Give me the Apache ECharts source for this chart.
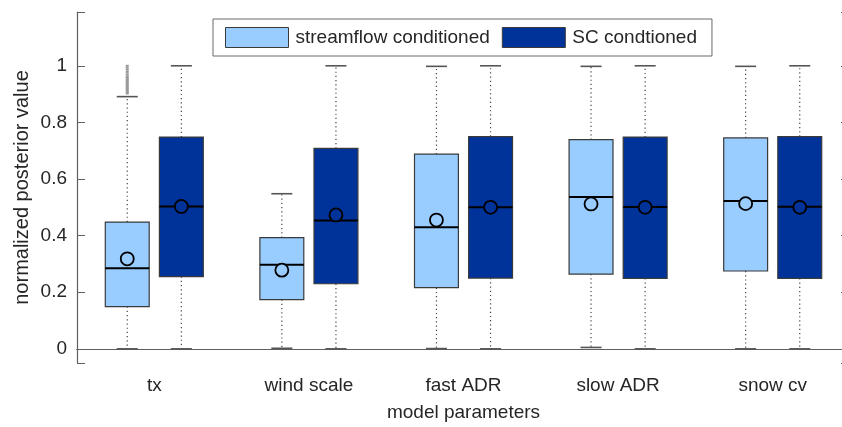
<!DOCTYPE html>
<html>
<head>
<meta charset="utf-8">
<script src="https://cdn.jsdelivr.net/npm/echarts@6/dist/echarts.min.js"></script>
<style>
  html, body { margin: 0; padding: 0; background: #fff; overflow: hidden; }
  #chart { width: 850px; height: 427px; }
</style>
</head>
<body>
<div id="chart"></div>
<script>
const categories = ['tx', 'wind scale', 'fast ADR', 'slow ADR', 'snow cv']

// streamflow conditioned
const streamLow = [0, 0.002, 0.001, 0.005, 0]
const streamQ1 = [0.149, 0.174, 0.216, 0.264, 0.275]
const streamMed = [0.285, 0.297, 0.430, 0.536, 0.522]
const streamQ3 = [0.448, 0.393, 0.688, 0.739, 0.745]
const streamHigh = [0.891, 0.548, 0.998, 0.998, 0.998]
const streamMean = [0.318, 0.278, 0.455, 0.512, 0.513]

// SC condtioned
const scLow = [0, 0, 0, 0, 0]
const scQ1 = [0.255, 0.230, 0.250, 0.249, 0.249]
const scMed = [0.503, 0.453, 0.500, 0.501, 0.502]
const scQ3 = [0.748, 0.708, 0.750, 0.748, 0.750]
const scHigh = [1, 1, 1, 1, 1]
const scMean = [0.503, 0.473, 0.500, 0.500, 0.500]

// outliers above the tx streamflow whisker
const txOutliers = [0.902, 0.907, 0.912, 0.918, 0.923, 0.928, 0.933, 0.938, 0.943, 0.948, 0.953, 0.958, 0.963, 0.97, 0.978, 0.986, 0.993, 1.0]

const lightBlue = '#99ccff'
const darkBlue = '#003399'
const axisColor = '#5f5f5f'
const textColor = '#262626'
const font = 'Liberation Sans, Arial, sans-serif'

function rows(low, q1, med, q3, high, mean) {
  return categories.map((c, i) => [i, low[i], q1[i], med[i], q3[i], high[i], mean[i]])
}

function boxRenderer(offset, fill) {
  return function (params, api) {
    const idx = api.value(0)
    const bandW = api.size([1, 0])[0]
    const cx = api.coord([idx, 0])[0] + offset * bandW
    const hb = 0.142 * bandW
    const hc = 0.068 * bandW
    const y = v => api.coord([idx, v])[1]
    const low = y(api.value(1)), q1 = y(api.value(2)), med = y(api.value(3))
    const q3 = y(api.value(4)), high = y(api.value(5)), mean = y(api.value(6))
    const dotted = { stroke: '#444', lineWidth: 1.2, lineDash: [1.2, 3] }
    const cap = { stroke: '#555', lineWidth: 1.6 }
    return {
      type: 'group',
      children: [
        { type: 'line', shape: { x1: cx, y1: q3, x2: cx, y2: high }, style: dotted },
        { type: 'line', shape: { x1: cx, y1: q1, x2: cx, y2: low }, style: dotted },
        { type: 'line', shape: { x1: cx - hc, y1: high, x2: cx + hc, y2: high }, style: cap },
        { type: 'line', shape: { x1: cx - hc, y1: low, x2: cx + hc, y2: low }, style: cap },
        { type: 'rect', shape: { x: cx - hb, y: q3, width: 2 * hb, height: q1 - q3 },
          style: { fill: fill, stroke: '#3a3a3a', lineWidth: 1.2 } },
        { type: 'line', shape: { x1: cx - hb, y1: med, x2: cx + hb, y2: med },
          style: { stroke: '#000', lineWidth: 2 } },
        { type: 'circle', shape: { cx: cx, cy: mean, r: 6.5 },
          style: { fill: fill, stroke: '#000', lineWidth: 1.8 } }
      ]
    }
  }
}

const chart = echarts.init(document.getElementById('chart'))

const option = {
  backgroundColor: '#fff',
  animation: false,
  textStyle: { fontFamily: font, color: textColor },
  grid: { left: 77, top: 12, right: 0, bottom: 64 },
  legend: {
    left: 213,
    top: 19,
    padding: [8, 15, 8, 12],
    itemGap: 12,
    itemWidth: 63,
    itemHeight: 20,
    selectedMode: false,
    backgroundColor: '#fff',
    borderColor: '#6a6a6a',
    borderWidth: 1,
    borderRadius: 0,
    textStyle: { fontFamily: font, fontSize: 19, color: textColor, padding: [0, 0, 0, 2] },
    data: [
      { name: 'streamflow conditioned', icon: 'rect', itemStyle: { color: lightBlue, borderColor: '#3a3a3a', borderWidth: 1 } },
      { name: 'SC condtioned', icon: 'rect', itemStyle: { color: darkBlue, borderColor: '#3a3a3a', borderWidth: 1 } }
    ]
  },
  xAxis: [
    {
      type: 'category',
      data: categories,
      boundaryGap: true,
      name: 'model parameters',
      nameLocation: 'middle',
      nameGap: 40,
      nameTextStyle: { fontFamily: font, fontSize: 19, color: textColor },
      axisLine: { lineStyle: { color: axisColor, width: 1.2 } },
      axisTick: { inside: true, alignWithLabel: true, length: 6, lineStyle: { color: axisColor } },
      axisLabel: { fontFamily: font, fontSize: 19, color: textColor, margin: 13 },
      splitLine: { show: false }
    },
    {
      type: 'category',
      data: categories,
      position: 'top',
      boundaryGap: true,
      axisLine: { lineStyle: { color: axisColor, width: 1.2 } },
      axisTick: { inside: true, alignWithLabel: true, length: 6, lineStyle: { color: axisColor } },
      axisLabel: { show: false },
      splitLine: { show: false }
    }
  ],
  yAxis: [
    {
      type: 'value',
      min: -0.05,
      max: 1.19,
      name: 'normalized posterior value',
      nameLocation: 'middle',
      nameGap: 45,
      nameMoveOverlap: false,
      nameTextStyle: { fontFamily: font, fontSize: 20, color: textColor },
      axisLine: { show: true, lineStyle: { color: axisColor, width: 1.2 } },
      axisTick: { show: true, inside: true, length: 8, lineStyle: { color: axisColor } },
      axisLabel: {
        fontFamily: font, fontSize: 19, color: textColor, margin: 10,
        formatter: v => Math.abs(v * 5 - Math.round(v * 5)) < 1e-6 ? String(Math.round(v * 10) / 10) : ''
      },
      splitLine: { show: false }
    },
    {
      type: 'value',
      min: -0.05,
      max: 1.19,
      position: 'right',
      axisLine: { show: true, lineStyle: { color: axisColor, width: 1.2 } },
      axisTick: { show: true, inside: true, length: 9, lineStyle: { color: axisColor } },
      axisLabel: { show: false },
      splitLine: { show: false }
    }
  ],
  series: [
    {
      name: 'streamflow conditioned',
      type: 'custom',
      itemStyle: { color: lightBlue },
      encode: { x: 0, y: [1, 2, 3, 4, 5, 6] },
      renderItem: boxRenderer(-0.175, lightBlue),
      data: rows(streamLow, streamQ1, streamMed, streamQ3, streamHigh, streamMean),
      z: 3
    },
    {
      name: 'SC condtioned',
      type: 'custom',
      itemStyle: { color: darkBlue },
      encode: { x: 0, y: [1, 2, 3, 4, 5, 6] },
      renderItem: boxRenderer(0.175, darkBlue),
      data: rows(scLow, scQ1, scMed, scQ3, scHigh, scMean),
      z: 3
    },
    {
      name: 'outliers',
      type: 'custom',
      encode: { x: 0, y: 1 },
      renderItem: function (params, api) {
        const bandW = api.size([1, 0])[0]
        const p = api.coord([api.value(0), api.value(1)])
        return {
          type: 'rect',
          shape: { x: p[0] - 0.175 * bandW - 1.5, y: p[1] - 1, width: 3, height: 2 },
          style: { fill: '#9a9a9a' }
        }
      },
      data: txOutliers.map(v => [0, v]),
      z: 2
    }
  ]
}

chart.setOption(option)
</script>
</body>
</html>
